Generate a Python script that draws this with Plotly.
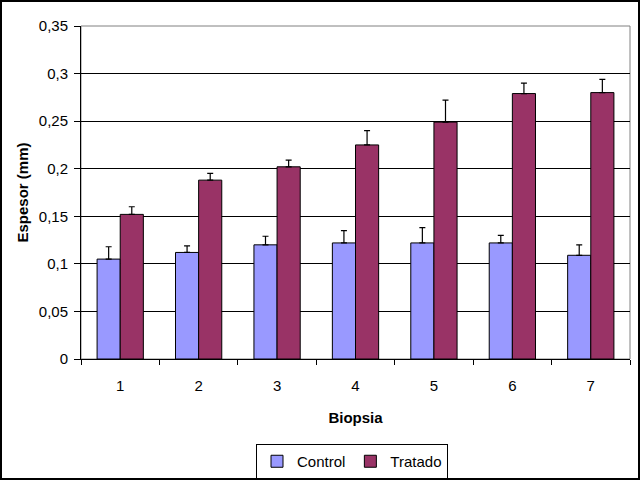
import plotly.graph_objects as go

categories = ["1", "2", "3", "4", "5", "6", "7"]
control = [0.105, 0.112, 0.120, 0.122, 0.122, 0.122, 0.109]
control_err = [0.013, 0.007, 0.009, 0.013, 0.016, 0.008, 0.011]
tratado = [0.152, 0.188, 0.202, 0.225, 0.249, 0.279, 0.280]
tratado_err = [0.008, 0.007, 0.007, 0.015, 0.023, 0.011, 0.014]
y_ticks = [0, 0.05, 0.1, 0.15, 0.2, 0.25, 0.3, 0.35]

font_family = "Liberation Sans, Arial, sans-serif"

fig = go.Figure()
fig.add_trace(go.Bar(
    x=categories, y=control, name="Control",
    marker=dict(color="#9999FF", line=dict(color="black", width=1)),
    error_y=dict(type="data", array=control_err, arrayminus=[0]*7, symmetric=False,
                 color="black", thickness=1.2, width=3),
))
fig.add_trace(go.Bar(
    x=categories, y=tratado, name="Tratado",
    marker=dict(color="#993366", line=dict(color="black", width=1)),
    error_y=dict(type="data", array=tratado_err, arrayminus=[0]*7, symmetric=False,
                 color="black", thickness=1.2, width=3),
))

fig.update_layout(
    width=640, height=480,
    margin=dict(l=81, r=10, t=26, b=121, autoexpand=False),
    paper_bgcolor="white", plot_bgcolor="white",
    separators=",.",
    barmode="group", bargap=0.41, bargroupgap=0,
    font=dict(family=font_family, size=15, color="black"),
    showlegend=True,
    legend=dict(orientation="h", xref="container", yref="container",
                x=352 / 640, xanchor="center", y=1 - 444 / 480, yanchor="top",
                bordercolor="black", borderwidth=1, font=dict(size=15),
                itemwidth=30, tracegroupgap=0),
    xaxis=dict(
        type="category", showline=True, linecolor="black", linewidth=1,
        ticks="outside", tickson="boundaries", ticklen=5, tickcolor="black",
        showgrid=False, tickfont=dict(size=15), ticklabelstandoff=13,
        title=dict(text="<b>Biopsia</b>", font=dict(size=15), standoff=19),
    ),
    yaxis=dict(
        range=[0, 0.35], tickvals=y_ticks, showline=True, linecolor="black", linewidth=1,
        ticks="outside", ticklen=6, tickcolor="black",
        showgrid=True, gridcolor="black", gridwidth=1, zeroline=False,
        tickfont=dict(size=15), ticklabelstandoff=3,
        title=dict(text="<b>Espesor (mm)</b>", font=dict(size=15), standoff=6),
    ),
    shapes=[
        dict(type="rect", xref="paper", yref="paper", x0=0, x1=1, y0=0, y1=1,
             line=dict(color="#808080", width=1), layer="below"),
        dict(type="rect", xref="paper", yref="paper",
             x0=(1 - 81) / 549, x1=(639 - 81) / 549,
             y0=(359 - 479) / 333, y1=(359 - 1) / 333,
             line=dict(color="black", width=2), layer="above"),
    ],
)

fig.write_html("out.html", config={"displayModeBar": False},
               post_script="document.body.style.margin='0';")
